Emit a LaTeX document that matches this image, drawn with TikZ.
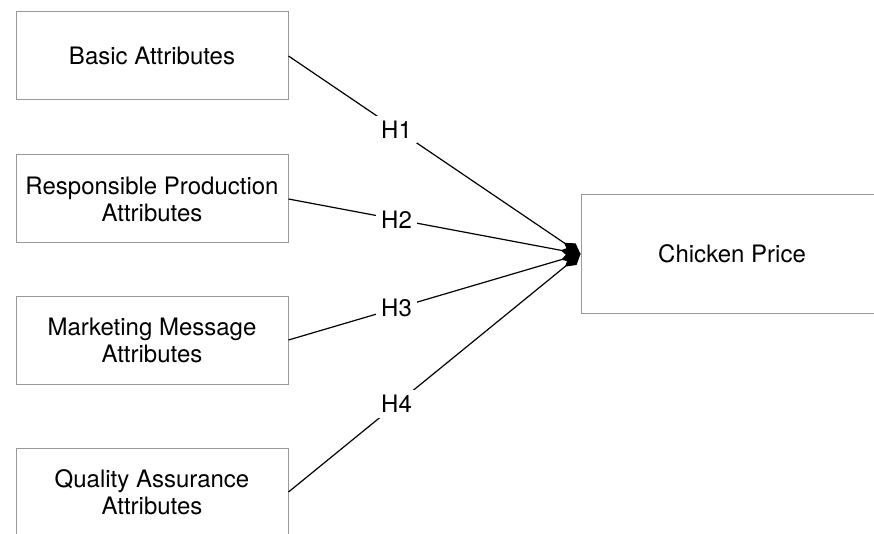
\documentclass[tikz,border=0pt]{standalone}
\usepackage{fontspec}
\setmainfont{TeX Gyre Heros}
\usetikzlibrary{arrows.meta}
\tikzstyle{attr}=[draw=black!40,line width=1pt,minimum width=272pt,minimum height=88pt,align=center,inner sep=0pt]
\tikzstyle{hyp}=[fill=white,inner sep=5pt]

\begin{document}
\begin{tikzpicture}[x=1pt,y=-1pt,font=\fontsize{24}{27}\selectfont]
          \useasboundingbox (0,0) rectangle (874,534);
          \foreach \name/\y/\text in {A-1/56/Basic Attributes,
                                      A-2/199/Responsible Production\\Attributes,
                                      A-3/340/Marketing Message\\Attributes,
                                      A-4/492/Quality Assurance\\Attributes}
            \node[attr] (\name) at (152,\y) {\text};
          \node[attr,minimum width=302pt,minimum height=118pt] (price) at (732,254) {Chicken Price};
          \foreach \from/\h in {1/H1,2/H2,3/H3,4/H4}
            \draw[line width=1.2pt,-{Diamond[length=20pt,width=12pt]}] (A-\from.east) -- node[hyp,pos=.37] {\h} (price.west);
        \end{tikzpicture}
\end{document}
